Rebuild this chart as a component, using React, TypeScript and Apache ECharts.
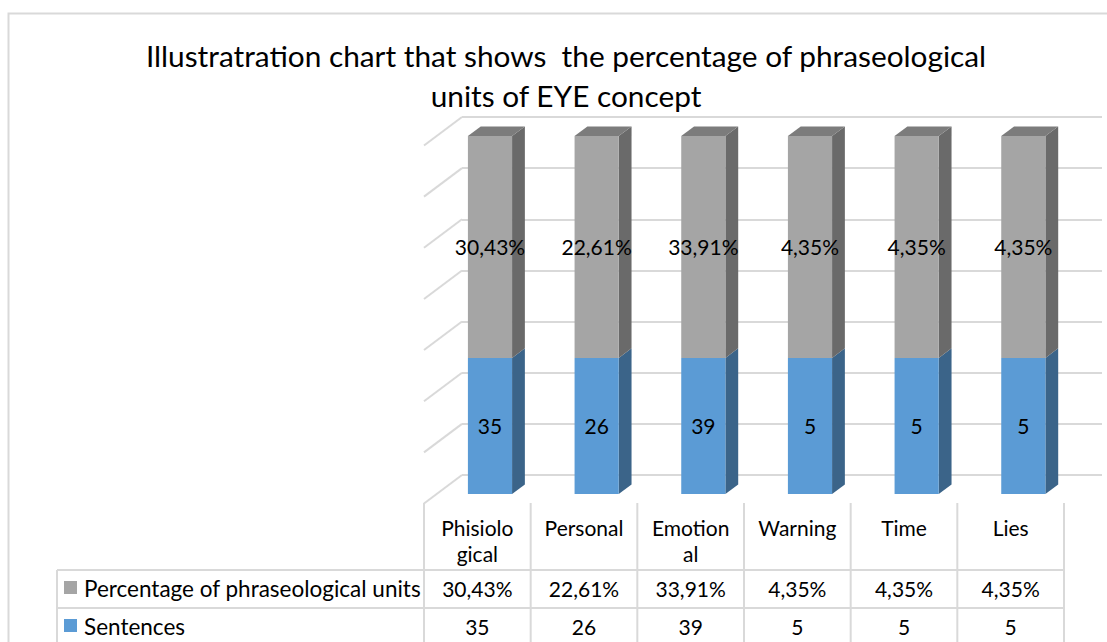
import React, { useEffect, useRef } from "react";
import * as echarts from "echarts";

// ---------- data ----------
const categories = ["Phisiological", "Personal", "Emotional", "Warning", "Time", "Lies"];
const headerLabels = ["Phisiolo\ngical", "Personal", "Emotion\nal", "Warning", "Time", "Lies"];
const sentences = [35, 26, 39, 5, 5, 5];
const percentages = [30.43, 22.61, 33.91, 4.35, 4.35, 4.35];
// segment heights as drawn in the column (share of column height, %)
const sentencesShare = [38, 38, 38, 38, 38, 38];
const percentageShare = [62, 62, 62, 62, 62, 62];
const gridLevels = [0, 1, 2, 3, 4, 5, 6, 7];
const seriesNames = ["Percentage of phraseological units", "Sentences"];
const titleLines = [
  "Illustratration chart that shows  the percentage of phraseological",
  "units of EYE concept",
];

const fmtPct = (v: number) => v.toFixed(2).replace(".", ",") + "%";

// ---------- layout ----------
const W = 1107;
const H = 642;
const GRID_LEFT = 462;
const GRID_RIGHT = 5;
const GRID_TOP = 117;
const GRID_BOTTOM = 167;
const DEPTH_X = 38;
const DEPTH_Y = 28.5;
const FRONT = 0.667;
const BACK = 0.33;
const BAR_HALF = 0.207;
const FONT = "Lato";
const LINE = "#d9d9d9";

const BLUE = { front: "#5b9bd5", side: "#3b6489", top: "#4a7fb0" };
const GRAY = { front: "#a5a5a5", side: "#6a6a6a", top: "#7c7c7c" };

function makeRender(colors: any, labels: string[], isTop: boolean) {
  return (params: any, api: any) => {
    const i = api.value(0);
    const lo = api.coord([i, api.value(1)]);
    const hi = api.coord([i, api.value(2)]);
    const band = api.size([1, 0])[0];
    const hw = band * BAR_HALF;
    const fx = -DEPTH_X * FRONT;
    const fy = DEPTH_Y * FRONT;
    const bx = -DEPTH_X * BACK;
    const by = DEPTH_Y * BACK;
    const xl = lo[0] - hw;
    const xr = lo[0] + hw;
    const children: any[] = [];
    children.push({
      type: "polygon",
      shape: {
        points: [
          [xr + fx, hi[1] + fy],
          [xr + bx, hi[1] + by],
          [xr + bx, lo[1] + by],
          [xr + fx, lo[1] + fy],
        ],
      },
      style: { fill: colors.side },
    });
    if (isTop) {
      children.push({
        type: "polygon",
        shape: {
          points: [
            [xl + fx, hi[1] + fy],
            [xr + fx, hi[1] + fy],
            [xr + bx, hi[1] + by],
            [xl + bx, hi[1] + by],
          ],
        },
        style: { fill: colors.top },
      });
    }
    children.push({
      type: "rect",
      shape: { x: xl + fx, y: hi[1] + fy, width: 2 * hw, height: lo[1] - hi[1] },
      style: { fill: colors.front },
    });
    children.push({
      type: "text",
      x: lo[0] + fx,
      y: (lo[1] + hi[1]) / 2 + fy,
      style: {
        text: labels[params.dataIndex],
        align: "center",
        verticalAlign: "middle",
        textAlign: "center",
        textVerticalAlign: "middle",
        fontFamily: FONT,
        fontSize: 21,
        fill: "#000",
      },
    });
    return { type: "group", children };
  };
}

export default function App() {
  const ref = useRef<HTMLDivElement>(null);
  useEffect(() => {
    if (!ref.current) return;
    const chart = echarts.init(ref.current, undefined, { renderer: "svg" });

    const blueData = categories.map((_, i) => [i, 0, sentencesShare[i]]);
    const grayData = categories.map((_, i) => [
      i,
      sentencesShare[i],
      sentencesShare[i] + percentageShare[i],
    ]);
    const blueLabels = sentences.map((v) => String(v));
    const grayLabels = percentages.map(fmtPct);

    const gridWidth = W - GRID_LEFT - GRID_RIGHT;
    const colW = gridWidth / categories.length;
    const tLeft = GRID_LEFT - DEPTH_X;
    const tRight = tLeft + colW * categories.length;
    const labelLeft = 57;
    const headTop = 503;
    const row1 = 570;
    const row2 = 608;
    const row3 = 646;

    const graphic: any[] = [];
    graphic.push({
      type: "rect",
      shape: { x: 8.5, y: 13.5, width: 1120, height: 660 },
      style: { fill: "none", stroke: LINE, lineWidth: 2 },
      silent: true,
    });
    titleLines.forEach((t, k) => {
      graphic.push({
        type: "text",
        x: 566,
        y: 55 + k * 40,
        style: {
          text: t,
          x: 0,
          y: 0,
          align: "center",
          verticalAlign: "middle",
          textAlign: "center",
          textVerticalAlign: "middle",
          fontFamily: FONT,
          fontSize: 29.8,
          fill: "#000",
        },
      });
    });
    for (let k = 0; k <= categories.length; k++) {
      const x = tLeft + k * colW;
      graphic.push({
        type: "line",
        shape: { x1: x, y1: headTop, x2: x, y2: H + 10 },
        style: { stroke: LINE, lineWidth: 2 },
      });
    }
    graphic.push({
      type: "line",
      shape: { x1: labelLeft, y1: row1, x2: labelLeft, y2: H + 10 },
      style: { stroke: LINE, lineWidth: 2 },
    });
    [row1, row2, row3].forEach((y) =>
      graphic.push({
        type: "line",
        shape: { x1: labelLeft, y1: y, x2: tRight, y2: y },
        style: { stroke: LINE, lineWidth: 2 },
      })
    );
    headerLabels.forEach((t, i) => {
      graphic.push({
        type: "text",
        x: tLeft + (i + 0.5) * colW,
        y: 514,
        style: {
          text: t,
          align: "center",
          verticalAlign: "top",
          textAlign: "center",
          textVerticalAlign: "top",
          fontFamily: FONT,
          fontSize: 21,
          lineHeight: 26,
          fill: "#000",
        },
      });
    });
    const rows = [
      { y: (row1 + row2) / 2 - 1, vals: grayLabels, name: seriesNames[0], color: GRAY.front },
      { y: (row2 + row3) / 2 - 1, vals: blueLabels, name: seriesNames[1], color: BLUE.front },
    ];
    rows.forEach((r) => {
      graphic.push({
        type: "rect",
        shape: { x: 64, y: r.y - 7, width: 13, height: 13 },
        style: { fill: r.color },
      });
      graphic.push({
        type: "text",
        x: 84,
        y: r.y,
        style: {
          text: r.name,
          align: "left",
          verticalAlign: "middle",
          textAlign: "left",
          textVerticalAlign: "middle",
          fontFamily: FONT,
          fontSize: 22.5,
          fill: "#000",
        },
      });
      r.vals.forEach((v, i) => {
        graphic.push({
          type: "text",
          x: tLeft + (i + 0.5) * colW,
          y: r.y,
          style: {
            text: v,
            align: "center",
            verticalAlign: "middle",
            textAlign: "center",
            textVerticalAlign: "middle",
            fontFamily: FONT,
            fontSize: 21,
            fill: "#000",
          },
        });
      });
    });

    chart.setOption({
      animation: false,
      backgroundColor: "#fff",
      grid: { left: GRID_LEFT, right: GRID_RIGHT, top: GRID_TOP, bottom: GRID_BOTTOM },
      xAxis: {
        type: "category",
        data: categories,
        axisLine: { show: false },
        axisTick: { show: false },
        axisLabel: { show: false },
      },
      yAxis: [
        {
          type: "value",
          min: 0,
          max: 100,
          axisLine: { show: false },
          axisTick: { show: false },
          axisLabel: { show: false },
          splitLine: { show: false },
        },
        {
          type: "value",
          min: 0,
          max: 7,
          interval: 1,
          axisLine: { show: false },
          axisTick: { show: false },
          axisLabel: { show: false },
          splitLine: { show: true, lineStyle: { color: LINE, width: 2 } },
        },
      ],
      series: [
        {
          type: "custom",
          name: "wall",
          yAxisIndex: 1,
          z: 1,
          silent: true,
          data: gridLevels.map((v) => [0, v]),
          renderItem: (params: any, api: any) => {
            const p = api.coord([0, api.value(1)]);
            const x0 = params.coordSys.x;
            return {
              type: "line",
              shape: { x1: x0, y1: p[1], x2: x0 - DEPTH_X, y2: p[1] + DEPTH_Y },
              style: { stroke: LINE, lineWidth: 2 },
            };
          },
        },
        {
          type: "custom",
          name: seriesNames[1],
          z: 3,
          data: blueData,
          renderItem: makeRender(BLUE, blueLabels, false),
        },
        {
          type: "custom",
          name: seriesNames[0],
          z: 4,
          data: grayData,
          renderItem: makeRender(GRAY, grayLabels, true),
        },
      ],
      graphic,
    });
    return () => chart.dispose();
  }, []);
  return (
    <div
      ref={ref}
      style={{ position: "fixed", left: 0, top: 0, width: W, height: H }}
    />
  );
}
